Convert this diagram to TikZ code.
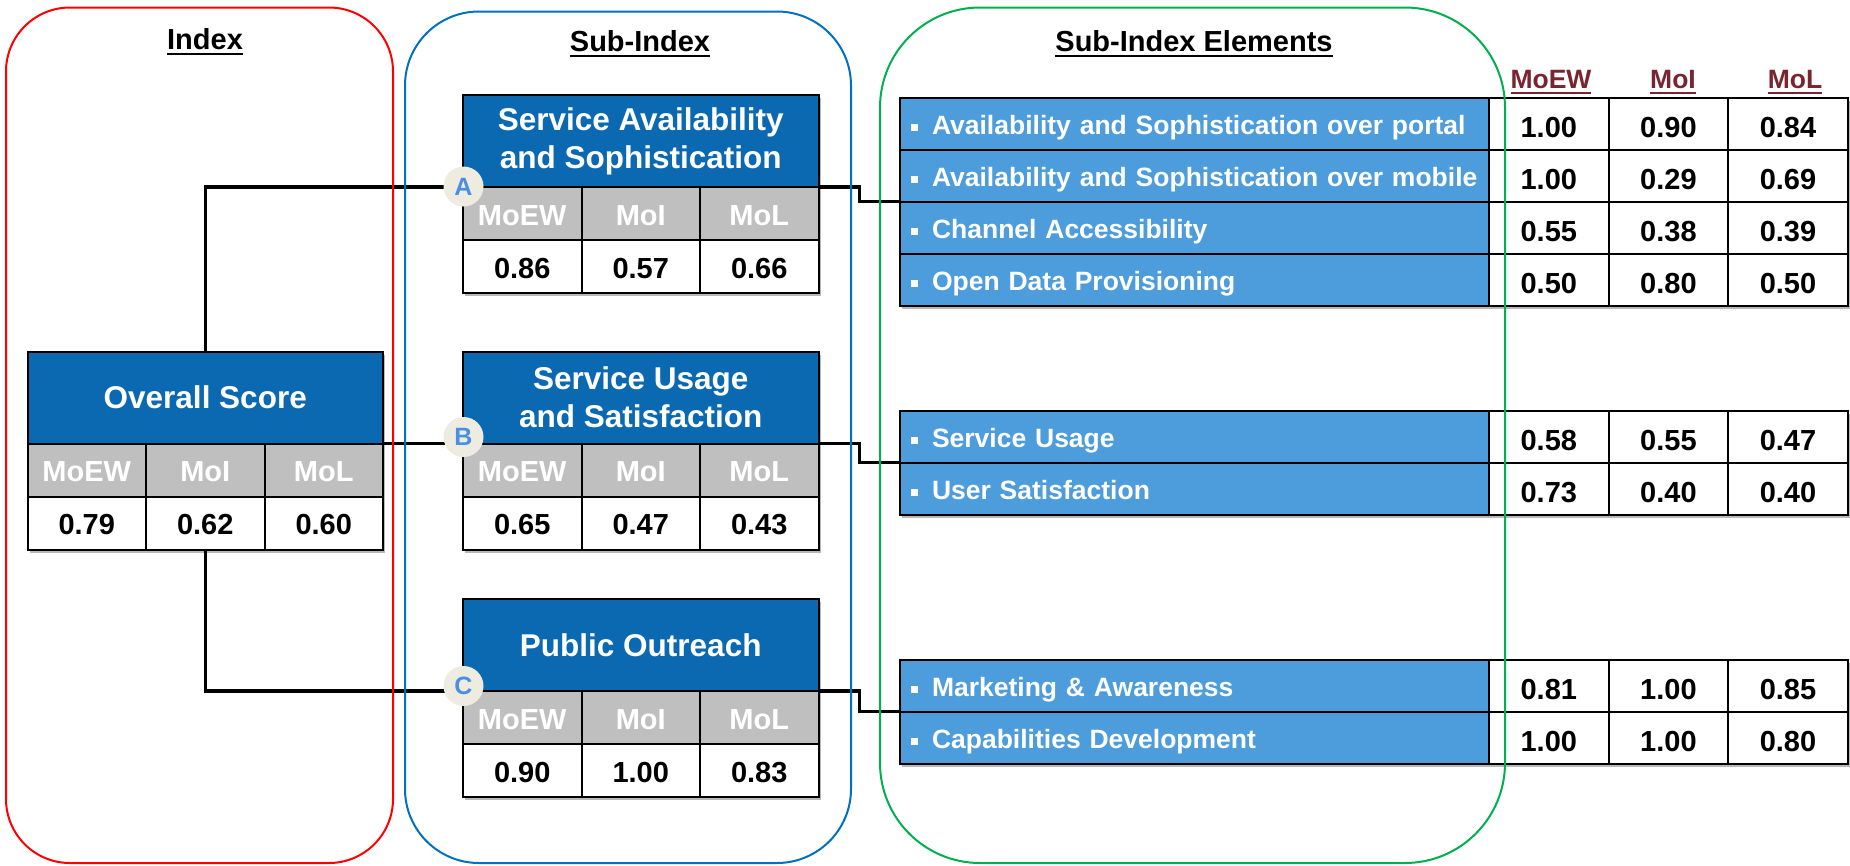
\documentclass[tikz,border=0pt]{standalone}
\usepackage{fontspec}
\setmainfont{Liberation Sans}
\usetikzlibrary{calc}
\definecolor{hdrblue}{RGB}{11,105,178}
\definecolor{elblue}{RGB}{77,156,220}
\definecolor{cellgray}{RGB}{191,191,191}
\definecolor{circfill}{RGB}{238,236,225}
\definecolor{circtext}{RGB}{74,144,226}
\definecolor{darkred}{RGB}{122,36,48}
\definecolor{frblue}{RGB}{0,112,192}
\definecolor{frgreen}{RGB}{0,176,80}
\definecolor{frred}{RGB}{255,0,0}

\pgfdeclarelayer{conn}
\pgfsetlayers{conn,main}

\newcommand{\myul}[1]{\setbox0\hbox{#1}\rlap{\rule[-5pt]{\wd0}{2pt}}\box0}
\newcommand{\sqb}{\rule[4pt]{7pt}{7pt}\hspace{14pt}}

\tikzset{
 every node/.style={outer sep=0pt},
 hdr/.style={draw=black, line width=2pt, fill=hdrblue, text=white,
   font=\fontsize{31.5}{38}\selectfont\bfseries, align=center,
   minimum width=355.5pt, minimum height=92pt, inner sep=0pt},
 gcell/.style={draw=black, line width=2pt, fill=cellgray, text=white,
   font=\fontsize{29}{34}\selectfont\bfseries, minimum width=118.5pt,
   minimum height=53pt, inner sep=0pt, text height=25pt, text depth=2pt},
 wcell/.style={gcell, fill=white, text=black},
 erow/.style={draw=black, line width=2pt, fill=elblue, text=white,
   font=\fontsize{26.5}{32}\selectfont\bfseries, minimum width=589pt,
   minimum height=52pt, text width=567pt, inner xsep=11pt, inner ysep=0pt,
   align=left, text height=25pt, text depth=3pt},
 ecell/.style={draw=black, line width=2pt, fill=white, text=black,
   font=\fontsize{29}{34}\selectfont\bfseries, minimum width=119.6pt,
   minimum height=52pt, inner sep=0pt, text height=29pt, text depth=2pt},
 ttl/.style={font=\fontsize{29}{34}\selectfont\bfseries, anchor=base, inner sep=0pt},
 colhd/.style={font=\fontsize{26.5}{32}\selectfont\bfseries, text=darkred,
   anchor=base, inner sep=0pt},
 badge/.style={circle, fill=circfill, minimum size=40pt, inner sep=0pt,
   text=circtext, font=\fontsize{25}{28}\selectfont\bfseries},
 link/.style={draw=black, line width=3.2pt},
 rframe/.style={line width=2pt},
 shade/.style={fill=black!28},
}

\newcommand{\scorebox}[7]{%
 \node[hdr, anchor=north west] (#1) at (#2,#3) {#4};
 \node[gcell, anchor=north west] (#1-g1) at (#1.south west) {MoEW};
 \node[gcell, anchor=north west] (#1-g2) at (#1-g1.north east) {MoI};
 \node[gcell, anchor=north west] (#1-g3) at (#1-g2.north east) {MoL};
 \node[wcell, anchor=north west] (#1-w1) at (#1-g1.south west) {#5};
 \node[wcell, anchor=north west] (#1-w2) at (#1-g2.south west) {#6};
 \node[wcell, anchor=north west] (#1-w3) at (#1-g3.south west) {#7};
 \begin{pgfonlayer}{conn}
 \fill[shade] ($(#1.north west)+(2,3)$) rectangle ($(#1-w3.south east)+(2,3)$);
 \end{pgfonlayer}
}
\newcommand{\elrow}[6]{%
 \node[erow, anchor=north west] (#1) at (900,#2) {\mbox{\sqb #3}};
 \node[ecell, anchor=north west] (#1-1) at (#1.north east) {#4};
 \node[ecell, anchor=north west] (#1-2) at (#1-1.north east) {#5};
 \node[ecell, anchor=north west] (#1-3) at (#1-2.north east) {#6};
}

\begin{document}
\begin{tikzpicture}[x=1pt, y=-1pt]
\useasboundingbox (0,0) rectangle (1850,865);

% titles
\node[ttl] (tIndex) at (205,49.5) {\myul{Index}};
\node[ttl] (tSub) at (640,51.5) {\myul{Sub-Index}};
\node[ttl] (tElem) at (1194,51.5) {\myul{Sub-Index Elements}};
\node[colhd] (hMoEW) at (1551,88.5) {\myul{MoEW}};
\node[colhd] (hMoI) at (1673,88.5) {\myul{MoI}};
\node[colhd] (hMoL) at (1795,88.5) {\myul{MoL}};

% score boxes
\scorebox{ov}{27.5}{351.5}{Overall Score}{0.79}{0.62}{0.60}
\scorebox{sa}{463}{95}{Service Availability\\and Sophistication}{0.86}{0.57}{0.66}
\scorebox{su}{463}{351.5}{Service Usage\\and Satisfaction}{0.65}{0.47}{0.43}
\scorebox{po}{463}{599}{Public Outreach}{0.90}{1.00}{0.83}

% element tables
\elrow{ea1}{97.5}{Availability and Sophistication over portal}{1.00}{0.90}{0.84}
\elrow{ea2}{149.5}{Availability and Sophistication over mobile}{1.00}{0.29}{0.69}
\elrow{ea3}{201.5}{Channel Accessibility}{0.55}{0.38}{0.39}
\elrow{ea4}{253.5}{Open Data Provisioning}{0.50}{0.80}{0.50}
\elrow{eb1}{410.5}{Service Usage}{0.58}{0.55}{0.47}
\elrow{eb2}{462.5}{User Satisfaction}{0.73}{0.40}{0.40}
\elrow{ec1}{659.5}{Marketing \& Awareness}{0.81}{1.00}{0.85}
\elrow{ec2}{711.5}{Capabilities Development}{1.00}{1.00}{0.80}

\begin{pgfonlayer}{conn}
\fill[shade] ($(ea1.north west)+(2,3)$) rectangle ($(ea4-3.south east)+(2,3)$);
\fill[shade] ($(eb1.north west)+(2,3)$) rectangle ($(eb2-3.south east)+(2,3)$);
\fill[shade] ($(ec1.north west)+(2,3)$) rectangle ($(ec2-3.south east)+(2,3)$);
\end{pgfonlayer}

% badges
\node[badge] (cA) at (463.5,186.5) {A};
\node[badge] (cB) at (463.5,437) {B};
\node[badge] (cC) at (463.5,686) {C};

% connectors
\begin{pgfonlayer}{conn}
\draw[link] (ov.north) |- (sa.south west);
\draw[link] (ov.south east) -- (su.south west);
\draw[link] (ov-w2.south) |- (po.south west);
\draw[link] (sa.south east) -- ++(41,0) |- (ea2.south west);
\draw[link] (su.south east) -- ++(41,0) |- (eb1.south west);
\draw[link] (po.south east) -- ++(41,0) |- (ec1.south west);
\end{pgfonlayer}

% frames (drawn on top, as in the reference)
\draw[rframe, frred, rounded corners=64pt] (6,7.5) rectangle (393,863);
\draw[rframe, frblue, rounded corners=74pt] (405,11.5) rectangle (851,863);
\draw[rframe, frgreen, rounded corners=100pt] (880,7.5) rectangle (1505,863);
\end{tikzpicture}
\end{document}
